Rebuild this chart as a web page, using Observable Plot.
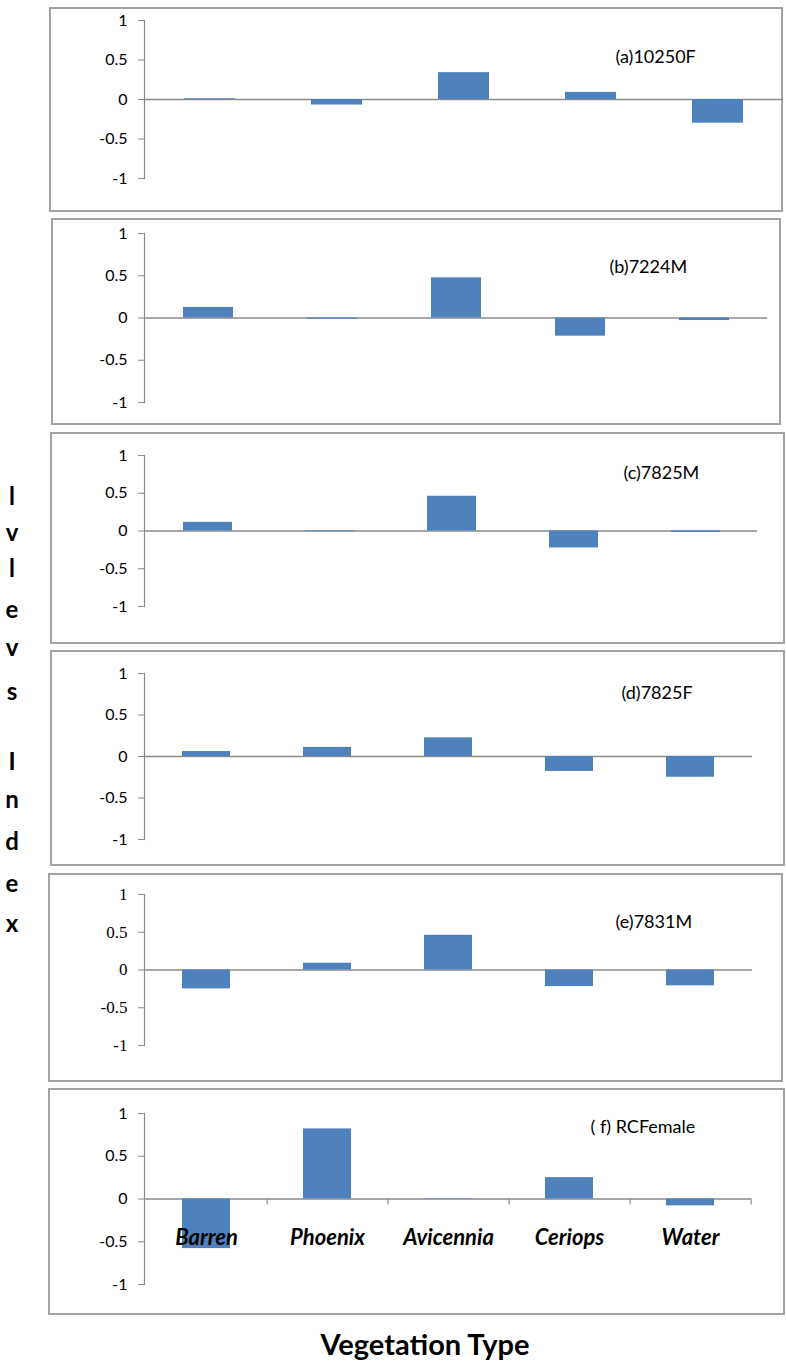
<!DOCTYPE html>
<html>
<head>
<meta charset="utf-8">
<script src="https://cdn.jsdelivr.net/npm/d3@7"></script>
<script src="https://cdn.jsdelivr.net/npm/@observablehq/plot@0.6"></script>
<style>
  html, body { margin: 0; padding: 0; background: #fff; }
  #root { position: relative; width: 786px; height: 1370px; font-family: Lato, "Open Sans", sans-serif; overflow: hidden; }
  .box { position: absolute; border: 2px solid #a3a3a3; box-sizing: border-box; }
  .panel { position: absolute; left: 0; }
  .vletter { position: absolute; left: 0; width: 24px; text-align: center; font-weight: bold; font-size: 24px; line-height: 29px; color: #000; }
  .xtitle { position: absolute; left: 0; width: 850px; text-align: center; font-weight: bold; font-size: 29px; line-height: 36px; color: #000; }
</style>
</head>
<body>
<div id="root"></div>
<script>
// ---- data ----
const categories = ["Barren", "Phoenix", "Avicennia", "Ceriops", "Water"];
const panelNames = ["(a)10250F", "(b)7224M", "(c)7825M", "(d)7825F", "(e)7831M", "( f) RCFemale"];
const valuesA = [0.01, -0.07, 0.34, 0.09, -0.30];
const valuesB = [0.125, -0.015, 0.475, -0.215, -0.03];
const valuesC = [0.115, -0.01, 0.46, -0.225, -0.02];
const valuesD = [0.06, 0.11, 0.225, -0.18, -0.25];
const valuesE = [-0.25, 0.09, 0.46, -0.22, -0.21];
const valuesF = [-0.58, 0.82, 0.005, 0.25, -0.08];
const yTicks = [-1, -0.5, 0, 0.5, 1];
const yTitle = "lvlevs Index";
const xTitle = "Vegetation Type";

const series = [valuesA, valuesB, valuesC, valuesD, valuesE, valuesF];

// ---- layout (pixels) ----
const layout = [
  {top: 7,    bottom: 212,  left: 49, right: 783, y1: 20,   yN: 178,  xStart: 144, xEnd: 783, lx: 615, ly: 57},
  {top: 218,  bottom: 425,  left: 51, right: 781, y1: 233,  yN: 402,  xStart: 145, xEnd: 767, lx: 609, ly: 267},
  {top: 432,  bottom: 644,  left: 50, right: 785, y1: 455,  yN: 606,  xStart: 145, xEnd: 757, lx: 623, ly: 473},
  {top: 650,  bottom: 866,  left: 50, right: 785, y1: 673,  yN: 839,  xStart: 145, xEnd: 752, lx: 621, ly: 693},
  {top: 873,  bottom: 1082, left: 48, right: 783, y1: 894,  yN: 1045, xStart: 145, xEnd: 752, lx: 615, ly: 922, serif: true},
  {top: 1088, bottom: 1315, left: 48, right: 785, y1: 1113, yN: 1284, xStart: 145, xEnd: 751, lx: 590, ly: 1127, cats: true, catY: 1237}
];
const letterBaselines = [505, 541, 577, 618, 656, 700, null, 770, 808, 850, 892, 932];
const W = 786;
const barColor = "#4F81BD";
const axisGray = "#8a8a8a";

const root = document.getElementById("root");

layout.forEach((L, k) => {
  const box = document.createElement("div");
  box.className = "box";
  box.style.left = L.left + "px";
  box.style.top = L.top + "px";
  box.style.width = (L.right - L.left) + "px";
  box.style.height = (L.bottom - L.top) + "px";
  root.appendChild(box);

  const H = L.bottom - L.top;
  const data = categories.map((c, i) => ({cat: c, value: series[k][i]}));
  const step = (L.xEnd - L.xStart) / categories.length;
  const tickFont = L.serif ? "'Liberation Serif', 'Times New Roman', serif" : "Lato, 'Open Sans', sans-serif";

  const marks = [
    Plot.ruleY([0], {stroke: axisGray, strokeWidth: 1.5}),
    Plot.barY(data, {x: "cat", y: "value", fill: barColor}),
    Plot.frame({anchor: "left", stroke: axisGray, strokeWidth: 1.2}),
    Plot.axisY({
      ticks: yTicks, tickSize: 6, tickPadding: 11, stroke: axisGray,
      tickFormat: d => String(d), fontSize: L.serif ? 17 : 16, fontFamily: tickFont,
      fill: "#000", label: null
    }),
    Plot.text([panelNames[k]], {
      frameAnchor: "top-left", dx: L.lx - 144, dy: L.ly - L.y1,
      textAnchor: "start", lineAnchor: "middle", fontSize: 18, fill: "#000"
    })
  ];
  if (L.cats) {
    marks.push(
      Plot.ruleX(categories, {x: d => d, y1: 0, y2: 0, insetBottom: -6, dx: step / 2, stroke: axisGray, strokeWidth: 1.2}),
      Plot.axisX({
        anchor: "bottom", tickSize: 0, tickPadding: 0, label: null,
        dy: L.catY - L.yN, lineAnchor: "middle",
        fontSize: 22, fontWeight: "bold", fontStyle: "italic", fill: "#000"
      })
    );
  }

  const chart = Plot.plot({
    width: W, height: H,
    marginLeft: 144, marginRight: W - L.xEnd,
    marginTop: L.y1 - L.top, marginBottom: L.bottom - L.yN,
    style: {fontFamily: "Lato, 'Open Sans', sans-serif", fontSize: "16px", background: "transparent", overflow: "visible"},
    x: {domain: categories, range: [L.xStart, L.xEnd], paddingInner: 0.6, paddingOuter: 0.3, axis: null},
    y: {domain: [-1, 1], axis: null},
    marks
  });
  chart.classList.add("panel");
  chart.style.top = L.top + "px";
  root.appendChild(chart);
});

// vertical y title (letters stacked)
[...yTitle].forEach((ch, i) => {
  if (ch === " " || letterBaselines[i] == null) return;
  const d = document.createElement("div");
  d.className = "vletter";
  d.textContent = ch;
  d.style.top = (letterBaselines[i] - 24) + "px";
  root.appendChild(d);
});

// x title
const xt = document.createElement("div");
xt.className = "xtitle";
xt.textContent = xTitle;
xt.style.top = "1326px";
root.appendChild(xt);
</script>
</body>
</html>
